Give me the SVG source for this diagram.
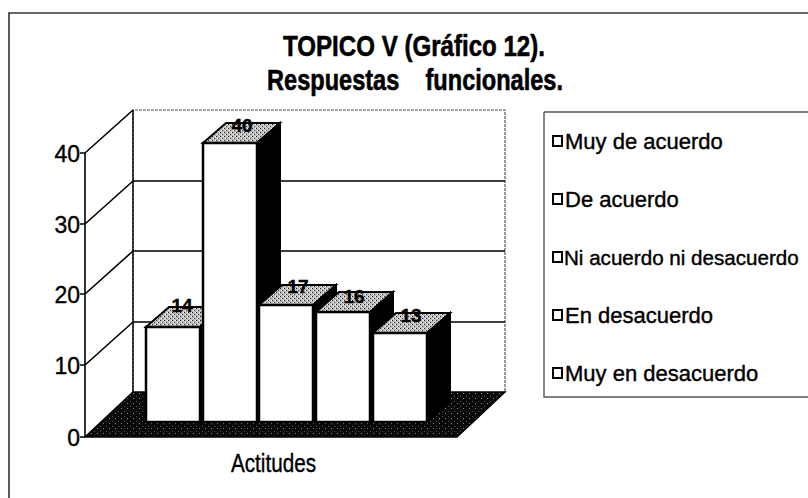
<svg xmlns="http://www.w3.org/2000/svg" width="808" height="498" viewBox="0 0 808 498">
<defs>
<pattern id="stip" width="4" height="4" patternUnits="userSpaceOnUse">
<rect width="4" height="4" fill="#bdbdbd"/><rect x="0" y="0" width="1" height="1" fill="#222"/><rect x="2" y="2" width="1" height="1" fill="#444"/><rect x="3" y="0" width="1" height="1" fill="#fff"/><rect x="1" y="2" width="1" height="1" fill="#fff"/>
</pattern>
<pattern id="floor" width="6" height="5" patternUnits="userSpaceOnUse">
<rect width="6" height="5" fill="#0a0a0a"/><rect x="1" y="3" width="1" height="1" fill="#888"/><rect x="4" y="1" width="1" height="1" fill="#555"/>
</pattern>
<style>
.t{font-family:"Liberation Sans",Arial,sans-serif;fill:#000;stroke:#000;stroke-width:0.4}
.title{font-size:30px;font-weight:bold;white-space:pre;stroke-width:0.6}
.ax{font-size:23px;text-anchor:end}
.val{font-size:19px;font-weight:bold;text-anchor:middle}
.leg{font-size:22px}
.grid{stroke:#000;stroke-width:1.6;fill:none}
.dot{stroke:#555;stroke-width:1.2;stroke-dasharray:3 1;fill:none}
.front{fill:#fff;stroke:#000;stroke-width:2.5}
.top{fill:url(#stip);stroke:#000;stroke-width:2}
.side{fill:#000;stroke:#000;stroke-width:2}
.box{fill:#fff;stroke:#000;stroke-width:2}
</style>
</defs>
<rect x="0" y="0" width="808" height="498" fill="#fff"/>
<g id="frame">
<path d="M9 498 V13 H810" fill="none" stroke="#333" stroke-width="1.6"/>
</g>
<g id="title">
<text class="t title" x="283" y="56" textLength="262" lengthAdjust="spacingAndGlyphs">TOPICO V (Gráfico 12).</text>
<text class="t title" x="267" y="90" textLength="296" lengthAdjust="spacingAndGlyphs">Respuestas    funcionales.</text>
</g>
<g id="walls">
<path class="dot" d="M133 392 V110 H505 V392"/>
<path class="grid" d="M133 181 H505 M133 251 H505 M133 322 H505"/>
<path class="grid" d="M85 153 V437 M85 153 L133 110 M85 224 L133 181 M85 294 L133 251 M85 365 L133 322 M80 153 H85 M80 224 H85 M80 294 H85 M80 365 H85 M80 437 H85"/>
<path d="M133 110 V392" stroke="#000" stroke-width="1.4" fill="none"/>
</g>
<g id="floor">
<polygon points="85,437 457,437 505,392 133,392" fill="url(#floor)" stroke="#000" stroke-width="1.5"/>
</g>
<g id="axis-labels">
<text class="t ax" x="80" y="162">40</text>
<text class="t ax" x="80" y="233">30</text>
<text class="t ax" x="80" y="303">20</text>
<text class="t ax" x="80" y="374">10</text>
<text class="t ax" x="80" y="446">0</text>
<text class="t" x="231" y="472" font-size="26" textLength="85" lengthAdjust="spacingAndGlyphs">Actitudes</text>
</g>
<g id="bar1">
<polygon class="top" points="146,327 169,307 223,307 200,327"/>
<polygon class="side" points="200,327 223,307 223,402 200,422"/>
<rect class="front" x="146" y="327" width="54" height="95"/>
<text class="t val" x="182" y="312">14</text>
</g>
<g id="bar2">
<polygon class="top" points="203,143 226,123 280,123 257,143"/>
<polygon class="side" points="257,143 280,123 280,402 257,422"/>
<rect class="front" x="203" y="143" width="54" height="279"/>
<text class="t val" x="242" y="132">40</text>
</g>
<g id="bar3">
<polygon class="top" points="259,305 282,285 336,285 313,305"/>
<polygon class="side" points="313,305 336,285 336,402 313,422"/>
<rect class="front" x="259" y="305" width="54" height="117"/>
<text class="t val" x="298" y="293">17</text>
</g>
<g id="bar4">
<polygon class="top" points="316,312 339,292 393,292 370,312"/>
<polygon class="side" points="370,312 393,292 393,402 370,422"/>
<rect class="front" x="316" y="312" width="54" height="110"/>
<text class="t val" x="354" y="303">16</text>
</g>
<g id="bar5">
<polygon class="top" points="373,333 396,313 450,313 427,333"/>
<polygon class="side" points="427,333 450,313 450,402 427,422"/>
<rect class="front" x="373" y="333" width="54" height="89"/>
<text class="t val" x="411" y="322">13</text>
</g>
<g id="legend">
<path d="M544 112 H810 M544 112 V397 H810" fill="none" stroke="#555" stroke-width="1.4"/>
<g id="leg1"><rect class="box" x="553" y="136" width="9" height="10"/><text class="t leg" x="565" y="149">Muy de acuerdo</text></g>
<g id="leg2"><rect class="box" x="553" y="194" width="9" height="10"/><text class="t leg" x="565" y="207">De acuerdo</text></g>
<g id="leg3"><rect class="box" x="553" y="252" width="9" height="10"/><text class="t leg" x="564" y="265" font-size="20.6" style="font-size:20.6px">Ni acuerdo ni desacuerdo</text></g>
<g id="leg4"><rect class="box" x="553" y="310" width="9" height="10"/><text class="t leg" x="565" y="323">En desacuerdo</text></g>
<g id="leg5"><rect class="box" x="553" y="368" width="9" height="10"/><text class="t leg" x="565" y="381">Muy en desacuerdo</text></g>
</g>
<g id="connectors"/>
</svg>
